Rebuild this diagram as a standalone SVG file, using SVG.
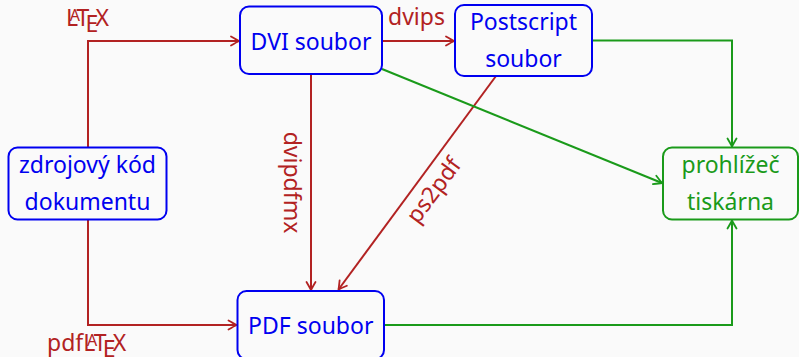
<svg xmlns="http://www.w3.org/2000/svg" width="799" height="357" viewBox="0 0 799 357">
  <style>
    text { font-family: "Noto Sans", "Open Sans", "DejaVu Sans", sans-serif; font-size: 23px; }
    .node rect { fill: none; stroke-width: 2; }
    .doc rect { stroke: #0000f0; }
    .doc text { fill: #0000f0; text-anchor: middle; }
    .out rect { stroke: #1a9a1a; }
    .out text { fill: #1a9a1a; text-anchor: middle; }
    .red { fill: none; stroke: #b22222; stroke-width: 2; marker-end: url(#arrRed); }
    .green { fill: none; stroke: #1a9a1a; stroke-width: 2; marker-end: url(#arrGreen); }
    .lbl { fill: #b22222; }
  </style>
  <defs>
    <marker id="arrRed" viewBox="-10 -6 12 12" refX="0" refY="0" markerWidth="12" markerHeight="12" markerUnits="userSpaceOnUse" orient="auto" overflow="visible">
      <path d="M-8,-4.5 Q-2,-1 0,0 Q-2,1 -8,4.5" fill="none" stroke="#b22222" stroke-width="1.8" stroke-linecap="round" stroke-linejoin="round"/>
    </marker>
    <marker id="arrGreen" viewBox="-10 -6 12 12" refX="0" refY="0" markerWidth="12" markerHeight="12" markerUnits="userSpaceOnUse" orient="auto" overflow="visible">
      <path d="M-8,-4.5 Q-2,-1 0,0 Q-2,1 -8,4.5" fill="none" stroke="#1a9a1a" stroke-width="1.8" stroke-linecap="round" stroke-linejoin="round"/>
    </marker>
  </defs>

  <rect x="0" y="0" width="799" height="357" fill="#fafafa"/>

  <!-- connectors -->
  <g id="connectors">
    <path class="red" d="M88,147.5 V41 H239"/>
    <path class="red" d="M88,219.5 V325 H236.5"/>
    <path class="red" d="M382,41 H454"/>
    <path class="red" d="M311,74 V290"/>
    <path class="red" d="M496,76 L338.5,289.5"/>
    <path class="green" d="M592,40.5 H732 V146.5"/>
    <path class="green" d="M382,69 L662,183"/>
    <path class="green" d="M384,325 H732 V220.5"/>

    <!-- LaTeX logo -->
    <text class="lbl" x="66" y="26">L<tspan dx="-8.3" dy="-4.8" font-size="16">A</tspan><tspan dx="-3.45" dy="4.8">T</tspan><tspan dx="-3.8" dy="6.2">E</tspan><tspan dx="-2.9" dy="-6.2">X</tspan></text>
    <!-- pdfLaTeX logo -->
    <text class="lbl" x="47" y="351">pdfL<tspan dx="-8.3" dy="-4.8" font-size="16">A</tspan><tspan dx="-3.45" dy="4.8">T</tspan><tspan dx="-3.8" dy="6.2">E</tspan><tspan dx="-2.9" dy="-6.2">X</tspan></text>
    <text class="lbl" x="388" y="25">dvips</text>
    <text class="lbl" text-anchor="middle" transform="translate(283.5,182.5) rotate(90)">dvipdfmx</text>
    <text class="lbl" text-anchor="middle" transform="translate(440,195) rotate(-53.4)">ps2pdf</text>
  </g>

  <!-- nodes -->
  <g id="src" class="node doc">
    <rect x="8.5" y="147.5" width="158" height="72" rx="9"/>
    <text x="87.5" y="173">zdrojový kód</text>
    <text x="87.5" y="210">dokumentu</text>
  </g>
  <g id="dvi" class="node doc">
    <rect x="240" y="6.5" width="142" height="67.5" rx="9"/>
    <text x="311" y="50">DVI soubor</text>
  </g>
  <g id="ps" class="node doc">
    <rect x="455" y="5" width="137" height="71" rx="9"/>
    <text x="523.5" y="29.5">Postscript</text>
    <text x="523.5" y="66.5">soubor</text>
  </g>
  <g id="viewer" class="node out">
    <rect x="663" y="147.5" width="135" height="72" rx="9"/>
    <text x="730.5" y="173">prohlížeč</text>
    <text x="730.5" y="210">tiskárna</text>
  </g>
  <g id="pdf" class="node doc">
    <rect x="237.5" y="291" width="146.5" height="68" rx="9"/>
    <text x="310.75" y="333.5">PDF soubor</text>
  </g>
</svg>
